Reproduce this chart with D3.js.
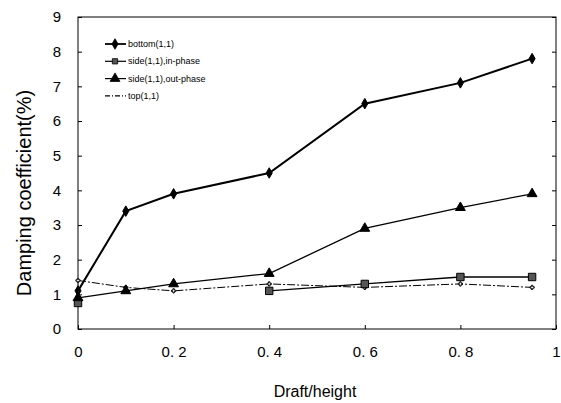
<!DOCTYPE html>
<html>
<head>
<meta charset="utf-8">
<script src="https://cdn.jsdelivr.net/npm/d3@7"></script>
<style>
  body { margin: 0; background: #fff; }
  text { font-family: "Liberation Sans", Arial, sans-serif; }
</style>
</head>
<body>
<div class="main"></div>
<script>
const xBottom = [0, 0.1, 0.2, 0.4, 0.6, 0.8, 0.95];
const bottom = [1.1, 3.4, 3.9, 4.5, 6.5, 7.1, 7.8];
const xInPhase = [0, 0.1, 0.2, 0.4, 0.6, 0.8, 0.95];
const inPhase = [0.75, null, null, 1.1, 1.3, 1.5, 1.5];
const xOutPhase = [0, 0.1, 0.2, 0.4, 0.6, 0.8, 0.95];
const outPhase = [0.9, 1.1, 1.3, 1.6, 2.9, 3.5, 3.9];
const xTop = [0, 0.1, 0.2, 0.4, 0.6, 0.8, 0.95];
const top11 = [1.4, 1.2, 1.1, 1.3, 1.2, 1.3, 1.2];
const xTicks = [0, 0.2, 0.4, 0.6, 0.8, 1];
const yTicks = [0, 1, 2, 3, 4, 5, 6, 7, 8, 9];
const seriesNames = ["bottom(1,1)", "side(1,1),in-phase", "side(1,1),out-phase", "top(1,1)"];

const w = 561, h = 403;
const svg = d3.select(".main").append("svg").attr("width", w).attr("height", h);

const xScale = d3.scaleLinear().domain([0, 1]).range([78, 556]);
const yScale = d3.scaleLinear().domain([0, 9]).range([329, 17]);

// frame
svg.append("rect")
  .attr("x", xScale(0)).attr("y", yScale(9))
  .attr("width", xScale(1) - xScale(0)).attr("height", yScale(0) - yScale(9))
  .attr("fill", "none").attr("stroke", "#000").attr("stroke-width", 1);

const yAxis = d3.axisLeft(yScale).tickValues(yTicks).tickSizeInner(-4).tickSizeOuter(0).tickPadding(17);
const gy = svg.append("g").attr("transform", "translate(" + xScale(0) + ",0)").call(yAxis);
gy.select(".domain").remove();
gy.selectAll("text").attr("font-size", "15px");

svg.append("g").attr("transform", "translate(" + xScale(1) + ",0)")
  .call(d3.axisRight(yScale).tickValues(yTicks).tickSizeInner(-4).tickSizeOuter(0).tickFormat(""))
  .select(".domain").remove();

const xAxis = d3.axisBottom(xScale).tickValues(xTicks).tickSizeInner(-4).tickSizeOuter(0).tickPadding(17)
  .tickFormat(d => d == 0 || d == 1 ? d : d3.format(".1f")(d).replace(".", ". "));
const gx = svg.append("g").attr("transform", "translate(0," + yScale(0) + ")").call(xAxis);
gx.select(".domain").remove();
gx.selectAll("text").attr("font-size", "15px");

svg.append("text")
  .attr("x", 315).attr("y", 397)
  .attr("font-size", "16px").style("text-anchor", "middle")
  .text("Draft/height");

svg.append("text")
  .attr("transform", "rotate(-90)")
  .attr("x", -193).attr("y", 31)
  .attr("font-size", "20px").style("text-anchor", "middle")
  .text("Damping coefficient(%)");

const line = d3.line().defined(d => d[1] != null).x(d => xScale(d[0])).y(d => yScale(d[1]));

function series(xs, ys, width, dash) {
  const pts = xs.map((x, i) => [x, ys[i]]);
  svg.append("path").datum(pts).attr("d", line)
    .attr("fill", "none").attr("stroke", "#000").attr("stroke-width", width)
    .attr("stroke-dasharray", dash);
  return pts.filter(d => d[1] != null);
}

const pTop = series(xTop, top11, 1, "8,2,2,2");
const pIn = series(xInPhase, inPhase, 1.3, null);
const pOut = series(xOutPhase, outPhase, 1.3, null);
const pBot = series(xBottom, bottom, 2, null);

const sym = {
  diamond: d3.symbol().type(d3.symbolDiamond).size(32),
  square: d3.symbol().type(d3.symbolSquare).size(55),
  triangle: d3.symbol().type(d3.symbolTriangle).size(42),
  cross: d3.symbol().type(d3.symbolCross).size(10)
};

function markers(pts, s, fill) {
  svg.selectAll(null).data(pts).enter().append("path")
    .attr("d", s)
    .attr("transform", d => "translate(" + xScale(d[0]) + "," + yScale(d[1]) + ")")
    .attr("fill", fill).attr("stroke", "#000").attr("stroke-width", 1);
}
markers(pTop, sym.cross, "#fff");
markers(pIn, sym.square, "#555");
markers(pOut, sym.triangle, "#000");
markers(pBot, sym.diamond, "#000");

// legend
const legendSyms = [sym.diamond, d3.symbol().type(d3.symbolSquare).size(28), sym.triangle, null];
const legendFill = ["#000", "#555", "#000", "none"];
seriesNames.forEach((name, i) => {
  const y = 44 + i * 17.3;
  svg.append("line").attr("x1", 105).attr("x2", 126).attr("y1", y).attr("y2", y)
    .attr("stroke", "#000").attr("stroke-width", i == 0 ? 1.8 : 1.2)
    .attr("stroke-dasharray", i == 3 ? "5,2,1,2" : null);
  if (legendSyms[i]) {
    svg.append("path").attr("d", legendSyms[i]())
      .attr("transform", "translate(115," + y + ")")
      .attr("fill", legendFill[i]).attr("stroke", "#000").attr("stroke-width", 0.8);
  }
  svg.append("text").attr("x", 128).attr("y", y + 3)
    .attr("font-size", "9px").text(name);
});
</script>
</body>
</html>
